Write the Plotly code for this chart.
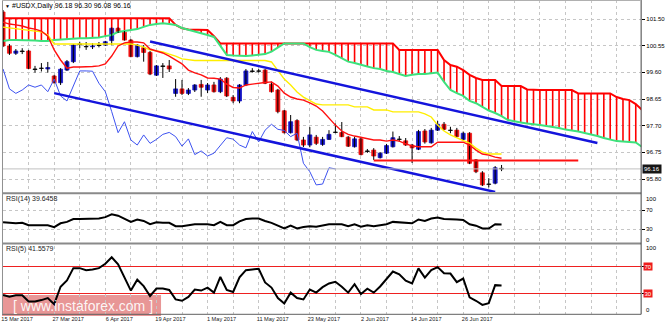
import plotly.graph_objects as go

W, H = 665, 325

# ---------------- data (bar -1 = 15 Mar 2017 ... bar 77 = 4 Jul 2017) ----------------
bars = list(range(-1, 78))
opens = [101.75, 100.54, 100.28, 100.36, 100.36, 99.72, 99.74, 99.72, 99.47, 99.23,
         99.68, 99.98, 100.59, 100.52, 100.51, 100.56, 100.57, 100.73, 101.17, 101.03,
         100.75, 100.16, 100.48, 100.31, 99.50, 99.83, 99.83, 98.85, 99.01, 98.85,
         98.97, 99.17, 98.97, 99.15, 98.91, 99.39, 98.71, 98.58, 99.15, 99.63,
         99.65, 99.68, 99.18, 98.97, 98.23, 97.45, 97.88, 97.19, 97.01, 97.29,
         97.03, 97.21, 97.47, 97.46, 97.29, 96.95, 97.23, 96.78, 96.83, 96.56,
         96.72, 96.95, 97.21, 97.16, 97.01, 96.86, 97.51, 97.09, 97.54, 97.75,
         97.54, 97.54, 97.21, 97.43, 96.48, 96.02, 95.61, 95.65, 96.18]
highs = [101.82, 100.61, 100.43, 100.46, 100.40, 99.83, 99.93, 99.97, 99.51, 99.75,
         100.04, 100.61, 100.69, 100.68, 100.64, 100.68, 100.72, 101.20, 101.20, 101.07,
         100.79, 100.61, 100.57, 100.36, 99.86, 99.93, 100.04, 99.36, 99.33, 99.04,
         99.18, 99.33, 99.22, 99.26, 99.43, 99.43, 98.79, 99.18, 99.72, 99.75,
         99.72, 99.72, 99.27, 99.01, 98.26, 98.08, 97.93, 97.30, 97.65, 97.37,
         97.30, 97.54, 97.78, 97.83, 97.33, 97.31, 97.30, 96.87, 96.90, 96.76,
         97.05, 97.49, 97.33, 97.26, 97.05, 97.55, 97.58, 97.62, 97.87, 97.83,
         97.66, 97.62, 97.49, 97.47, 96.51, 96.08, 95.83, 96.26, 96.30]
lows = [100.50, 100.22, 100.22, 100.25, 99.71, 99.59, 99.63, 99.59, 99.20, 99.15,
        99.65, 99.93, 100.46, 100.40, 100.43, 100.49, 100.54, 100.57, 101.00, 100.73,
        100.14, 100.13, 99.98, 99.50, 99.47, 99.40, 99.61, 98.73, 98.79, 98.79,
        98.90, 98.73, 98.86, 98.88, 98.86, 98.72, 98.50, 98.50, 99.11, 99.59,
        99.59, 99.18, 98.88, 98.14, 97.42, 97.42, 97.15, 96.94, 96.93, 97.01,
        96.98, 97.19, 97.43, 97.29, 96.94, 96.92, 96.64, 96.73, 96.48, 96.53,
        96.69, 96.92, 97.12, 96.98, 96.37, 96.83, 97.06, 97.06, 97.51, 97.54,
        97.43, 97.29, 97.19, 96.33, 96.01, 95.55, 95.50, 95.61, 96.08]
closes = [100.54, 100.28, 100.36, 100.34, 99.74, 99.70, 99.75, 99.77, 99.23, 99.71,
          99.98, 100.57, 100.61, 100.51, 100.54, 100.57, 100.69, 101.17, 101.03, 100.75,
          100.16, 100.57, 100.31, 99.54, 99.83, 99.81, 99.72, 99.01, 98.85, 98.97,
          99.15, 99.07, 99.15, 98.91, 99.36, 98.76, 98.58, 99.15, 99.65, 99.65,
          99.64, 99.21, 98.91, 98.20, 97.45, 97.84, 97.19, 97.01, 97.37, 97.07,
          97.21, 97.39, 97.46, 97.31, 96.97, 97.23, 96.67, 96.80, 96.62, 96.72,
          96.99, 97.27, 97.22, 97.01, 96.91, 97.49, 97.12, 97.54, 97.75, 97.57,
          97.53, 97.31, 97.43, 96.36, 96.06, 95.59, 95.62, 96.20, 96.16]

tenkan = [101.39, 101.32, 101.29, 101.25, 101.18, 101.14, 101.07, 100.89, 100.40, 100.04,
          99.75, 99.79, 99.79, 99.79, 99.81, 99.83, 99.90, 100.18, 100.54, 100.65,
          100.68, 100.68, 100.65, 100.43, 100.36, 100.29, 100.18, 100.04, 99.90, 99.68,
          99.58, 99.51, 99.40, 99.39, 99.36, 99.18, 99.06, 99.04, 99.15, 99.18,
          99.22, 99.24, 99.26, 99.11, 98.86, 98.72, 98.65, 98.61, 98.51, 98.40,
          98.22, 97.97, 97.72, 97.51, 97.39, 97.33, 97.28, 97.23, 97.19, 97.19,
          97.15, 97.19, 97.15, 97.05, 96.98, 96.95, 96.95, 96.95, 97.11, 97.11,
          97.11, 97.11, 97.11, 97.01, 96.83, 96.69, 96.65, 96.58, 96.54]
kijun = [101.21, 101.18, 101.16, 101.14, 101.11, 101.07, 101.04, 100.93, 100.61, 100.61,
         100.61, 100.61, 100.61, 100.61, 100.61, 100.61, 100.61, 100.61, 100.61, 100.61,
         100.61, 100.57, 100.50, 100.40, 100.36, 100.33, 100.25, 100.18, 100.08, 100.04,
         100.02, 100.02, 100.02, 100.02, 100.02, 100.02, 100.02, 100.02, 100.02, 100.02,
         100.02, 100.02, 99.97, 99.68, 99.36, 99.15, 98.90, 98.72, 98.58, 98.47,
         98.44, 98.44, 98.44, 98.44, 98.44, 98.37, 98.37, 98.37, 98.26, 98.26,
         98.26, 98.19, 98.19, 98.19, 98.19, 98.19, 98.12, 98.01, 97.72, 97.51,
         97.37, 97.26, 97.17, 97.08, 96.90, 96.76, 96.69, 96.69, 96.69]

cloud_bars = list(range(-1, 100))
senkou_a = [100.72, 100.75, 100.75, 100.75, 100.75, 100.73, 100.72, 100.72, 100.75, 100.77,
            100.79, 100.81, 100.81, 100.81, 100.82, 100.84, 100.89, 100.93, 101.04, 101.07,
            101.11, 101.14, 101.22, 101.29, 101.32, 101.35, 101.32, 101.29, 101.18, 101.11,
            101.04, 100.99, 100.93, 100.86, 100.54, 100.22, 100.20, 100.18, 100.18, 100.20,
            100.22, 100.25, 100.34, 100.50, 100.63, 100.63, 100.63, 100.63, 100.50, 100.40,
            100.36, 100.33, 100.22, 100.11, 99.98, 99.93, 99.86, 99.81, 99.75, 99.72,
            99.65, 99.61, 99.54, 99.47, 99.51, 99.54, 99.54, 99.56, 99.59, 99.26,
            98.97, 98.86, 98.76, 98.58, 98.50, 98.37, 98.24, 98.15, 98.04, 97.90,
            97.85, 97.81, 97.78, 97.76, 97.72, 97.69, 97.66, 97.62, 97.56, 97.53,
            97.49, 97.44, 97.39, 97.33, 97.26, 97.21, 97.15, 97.14, 97.13, 97.10,
            96.94]
senkou_b = [101.53, 101.53, 101.53, 101.53, 101.53, 101.53, 101.53, 101.53, 101.53, 101.53,
            101.53, 101.53, 101.53, 101.53, 101.53, 101.53, 101.53, 101.53, 101.53, 101.53,
            101.53, 101.53, 101.53, 101.53, 101.53, 101.53, 101.53, 101.29, 101.17, 101.13,
            101.13, 101.13, 101.11, 100.89, 100.63, 100.63, 100.63, 100.63, 100.63, 100.63,
            100.63, 100.63, 100.63, 100.63, 100.63, 100.63, 100.63, 100.63, 100.63, 100.63,
            100.63, 100.63, 100.63, 100.63, 100.63, 100.63, 100.63, 100.63, 100.63, 100.63,
            100.63, 100.63, 100.40, 100.40, 100.40, 100.40, 100.40, 100.40, 100.40, 100.04,
            99.86, 99.80, 99.68, 99.51, 99.40, 99.33, 99.33, 99.33, 99.11, 99.11,
            99.11, 99.11, 98.99, 98.97, 98.97, 98.97, 98.97, 98.97, 98.97, 98.97,
            98.85, 98.85, 98.85, 98.85, 98.85, 98.85, 98.72, 98.65, 98.61, 98.47,
            98.26]
chikou_shift = 26

rsi14 = [44, 43, 42, 43, 38, 38, 38, 38, 34, 42, 45, 51, 51, 51, 51, 52, 55, 61, 58, 52,
         45, 50, 47, 40, 44, 43, 43, 36, 36, 38, 40, 40, 40, 38, 45, 38, 38, 46, 51, 52,
         52, 47, 43, 37, 31, 37, 31, 34, 36, 35, 37, 40, 40, 40, 36, 40, 35, 38, 36, 38,
         40, 45, 44, 43, 42, 50, 47, 52, 54, 51, 51, 50, 49, 40, 37, 31, 31, 40, 39.65]
rsi5 = [27.5, 25, 27, 27, 18, 18, 20, 23, 14, 39.6, 49, 67, 67, 64, 65, 67, 73.5, 83, 72.5, 53,
        34, 50, 40.6, 26, 37, 37, 35, 21, 19, 24.6, 35.5, 34, 38.4, 31, 54, 35, 32, 53.6, 64, 65,
        66, 46, 38.4, 23, 15, 31, 23, 21, 35.5, 31, 39, 44.5, 47, 39.6, 31, 43.5, 29, 36.7, 31, 40,
        51.7, 62, 58, 48.5, 44.5, 66.7, 53, 64, 68.5, 59.4, 59, 46.4, 51.7, 24, 19, 13, 15.5, 42, 41.56]

date_bars = [-1, 7, 15, 23, 31, 39, 47, 55, 63, 71]
date_labels = ["15 Mar 2017", "27 Mar 2017", "6 Apr 2017", "19 Apr 2017", "1 May 2017",
               "11 May 2017", "23 May 2017", "2 Jun 2017", "14 Jun 2017", "26 Jun 2017"]
price_ticks = [95.80, 96.75, 97.70, 98.65, 99.60, 100.55, 101.50]
rsi_levels = [30, 70]
rsi_axis_labels = [100, 70, 30, 0]

channel_upper_bars = [22, 92]
channel_upper_prices = [100.70, 97.08]
channel_lower_bars = [7, 76]
channel_lower_prices = [98.86, 95.34]
support_bars = [57, 89]
support_price = 96.46
last_price = 96.16
title_text = "#USDX,Daily 96.18 96.30 96.08 96.16"
rsi14_label = "RSI(14) 39.6458"
rsi5_label = "RSI(5) 41.5579"
watermark = "[ www.instaforex.com ]"

for arr in (opens, highs, lows, closes, tenkan, kijun, rsi14, rsi5):
    assert len(arr) == len(bars), len(arr)
assert len(senkou_a) == len(cloud_bars) == len(senkou_b)

# ---------------- geometry helpers (pixel -> paper) ----------------
def py(p):
    return 1 - p / H

def px(p):
    return p / W

FONT = "Liberation Sans, Arial, sans-serif"
GRID = "#c6c6c6"

fig = go.Figure()

# Ichimoku cloud hatching
hx, hy = [], []
for b, a, s in zip(cloud_bars, senkou_a, senkou_b):
    hx += [b, b, None]
    hy += [a, s, None]
fig.add_trace(go.Scatter(x=hx, y=hy, mode="lines", line=dict(color="#ff0000", width=1.6),
                         xaxis="x", yaxis="y", hoverinfo="skip"))
fig.add_trace(go.Scatter(x=cloud_bars, y=senkou_b, mode="lines", line=dict(color="#ff0000", width=2),
                         xaxis="x", yaxis="y"))
fig.add_trace(go.Scatter(x=cloud_bars, y=senkou_a, mode="lines", line=dict(color="#3ce27c", width=2),
                         xaxis="x", yaxis="y"))

# candles: wicks
wx, wy = [], []
for b, h, l in zip(bars, highs, lows):
    wx += [b, b, None]
    wy += [l, h, None]
fig.add_trace(go.Scatter(x=wx, y=wy, mode="lines", line=dict(color="#000000", width=1),
                         xaxis="x", yaxis="y", hoverinfo="skip"))
# candles: bodies
bases = [min(o, c) for o, c in zip(opens, closes)]
heights = [abs(c - o) for o, c in zip(opens, closes)]
cols = ["#000000" if abs(c - o) < 0.025 else ("#1414c4" if c > o else "#ee1010")
        for o, c in zip(opens, closes)]
fig.add_trace(go.Bar(x=bars, y=heights, base=bases, width=0.62,
                     marker=dict(color=cols, line=dict(color=cols, width=0.8)),
                     xaxis="x", yaxis="y"))

# Ichimoku lines
fig.add_trace(go.Scatter(x=bars, y=kijun, mode="lines", line=dict(color="#ffee00", width=1.4),
                         xaxis="x", yaxis="y"))
fig.add_trace(go.Scatter(x=bars, y=tenkan, mode="lines", line=dict(color="#ff1010", width=1.4),
                         xaxis="x", yaxis="y"))
ch_x = [b - chikou_shift for b in bars if b - chikou_shift >= -1]
ch_y = [c for b, c in zip(bars, closes) if b - chikou_shift >= -1]
fig.add_trace(go.Scatter(x=ch_x, y=ch_y, mode="lines", line=dict(color="#3d52f0", width=1),
                         xaxis="x", yaxis="y"))

# channel lines and support
fig.add_trace(go.Scatter(x=channel_upper_bars, y=channel_upper_prices, mode="lines",
                         line=dict(color="#1414dc", width=2.5), xaxis="x", yaxis="y"))
fig.add_trace(go.Scatter(x=channel_lower_bars, y=channel_lower_prices, mode="lines",
                         line=dict(color="#1414dc", width=2.5), xaxis="x", yaxis="y"))
fig.add_trace(go.Scatter(x=support_bars, y=[support_price, support_price], mode="lines",
                         line=dict(color="#ff1010", width=2), xaxis="x", yaxis="y"))

# RSI panels
fig.add_trace(go.Scatter(x=bars, y=rsi14, mode="lines", line=dict(color="#000000", width=2),
                         xaxis="x2", yaxis="y2"))
fig.add_trace(go.Scatter(x=bars, y=rsi5, mode="lines", line=dict(color="#000000", width=2),
                         xaxis="x3", yaxis="y3"))

# ---------------- axes ----------------
xrange = [-1.01, 98.84]
xdom = [px(1), px(643)]

def xaxis(anchor, labels=False):
    d = dict(range=xrange, domain=xdom, anchor=anchor, showgrid=True, gridcolor=GRID,
             griddash="dot", gridwidth=1, zeroline=False, showline=False,
             tickmode="array", tickvals=date_bars, ticktext=date_labels,
             showticklabels=labels, ticks="",
             minor=dict(tickmode="linear", tick0=-1, dtick=4, showgrid=True,
                        gridcolor=GRID, griddash="dot", gridwidth=1))
    if labels:
        d.update(tickfont=dict(family=FONT, size=5.6, color="#202020"), ticklabelshift=14,
                 ticklabelstandoff=1, ticklabeloverflow="allow")
    return d

fig.update_layout(
    width=W, height=H, margin=dict(l=0, r=0, t=0, b=0),
    paper_bgcolor="#ffffff", plot_bgcolor="rgba(0,0,0,0)",
    showlegend=False, hovermode=False, barmode="overlay",
    font=dict(family=FONT, size=7, color="#000000"),
    xaxis=xaxis("y"), xaxis2=xaxis("y2"), xaxis3=xaxis("y3", labels=True),
    yaxis=dict(domain=[py(192), 1], range=[95.337, 102.177], anchor="x", side="right",
               tickmode="array", tickvals=price_ticks, tickformat=".2f",
               tickfont=dict(family=FONT, size=6, color="#000000"),
               ticks="outside", ticklen=3, tickcolor="#000000",
               showgrid=True, gridcolor=GRID, griddash="dot", zeroline=False),
    yaxis2=dict(domain=[py(243.25), py(195.75)], range=[0, 100], anchor="x2", side="right",
                tickmode="array", tickvals=rsi_levels, showticklabels=False,
                ticks="outside", ticklen=3, tickcolor="#000000",
                showgrid=True, gridcolor=GRID, griddash="dot", zeroline=False),
    yaxis3=dict(domain=[py(313.7), py(245.7)], range=[0, 100], anchor="x3", side="right",
                tickmode="array", tickvals=rsi_levels, showticklabels=False,
                ticks="outside", ticklen=3, tickcolor="#000000",
                showgrid=True, gridcolor="#ee2020", griddash="solid", gridwidth=1, zeroline=False),
)

# ---------------- frame shapes ----------------
shapes = []
# watermark box (behind)
shapes.append(dict(type="rect", xref="paper", yref="paper", x0=0, x1=px(160),
                   y0=py(316), y1=py(295), fillcolor="rgba(226,120,120,0.78)",
                   line=dict(width=0), layer="below"))
# bid line
shapes.append(dict(type="line", xref="x domain", yref="y", x0=0, x1=1,
                   y0=last_price, y1=last_price, line=dict(color="#c0c0c0", width=1)))
# separators
for yy in (193.3, 243.6):
    shapes.append(dict(type="line", xref="paper", yref="paper", x0=0, x1=px(643),
                       y0=py(yy), y1=py(yy), line=dict(color="#8a8a8a", width=2)))
shapes.append(dict(type="line", xref="paper", yref="paper", x0=0, x1=px(643),
                   y0=py(314.3), y1=py(314.3), line=dict(color="#606060", width=1)))
shapes.append(dict(type="line", xref="paper", yref="paper", x0=px(643), x1=px(643),
                   y0=py(314.3), y1=1, line=dict(color="#404040", width=1)))
shapes.append(dict(type="line", xref="paper", yref="paper", x0=px(0.5), x1=px(0.5),
                   y0=py(314.3), y1=1, line=dict(color="#909090", width=1)))
shapes.append(dict(type="line", xref="paper", yref="paper", x0=0, x1=px(643),
                   y0=py(0.5), y1=py(0.5), line=dict(color="#b0b0b0", width=1)))
fig.update_layout(shapes=shapes)

# ---------------- annotations ----------------
ann = []
ann.append(dict(text="▼", xref="paper", yref="paper", x=px(1.5), y=py(5.5), xanchor="left",
                yanchor="middle", showarrow=False, font=dict(size=5, color="#000000")))
ann.append(dict(text=title_text, xref="paper", yref="paper", x=px(8), y=py(5.5), xanchor="left",
                yanchor="middle", showarrow=False, font=dict(size=7, color="#000000")))
ann.append(dict(text=rsi14_label, xref="paper", yref="paper", x=px(2), y=py(199), xanchor="left",
                yanchor="middle", showarrow=False, font=dict(size=7, color="#222222")))
ann.append(dict(text=rsi5_label, xref="paper", yref="paper", x=px(2), y=py(249.3), xanchor="left",
                yanchor="middle", showarrow=False, font=dict(size=7, color="#222222")))
# last price box
ann.append(dict(text=f"{last_price:.2f}", xref="paper", yref="y", x=px(644), y=last_price,
                xanchor="left", yanchor="middle", showarrow=False, bgcolor="#161616",
                borderpad=1, font=dict(size=6, color="#ffffff")))
# RSI axis labels
shift = {100: -3.5, 70: 0, 30: 0, 0: 3}
for v in rsi_axis_labels:
    ann.append(dict(text=str(v), xref="paper", yref="y2", x=px(645.5), y=v, yshift=shift[v],
                    xanchor="left", yanchor="middle", showarrow=False,
                    font=dict(size=6, color="#000000")))
shift5 = {100: -2.5, 0: 3.5}
for v in rsi_axis_labels:
    if v in rsi_levels:
        ann.append(dict(text=str(v), xref="paper", yref="y3", x=px(644.5), y=v,
                        xanchor="left", yanchor="middle", showarrow=False, bgcolor="#ee1c1c",
                        borderpad=0.5, font=dict(size=6, color="#ffffff")))
    else:
        ann.append(dict(text=str(v), xref="paper", yref="y3", x=px(645.5), y=v, yshift=shift5[v],
                        xanchor="left", yanchor="middle", showarrow=False,
                        font=dict(size=6, color="#000000")))
# watermark text
ann.append(dict(text=watermark, xref="paper", yref="paper", x=px(81), y=py(305.5),
                xanchor="center", yanchor="middle", showarrow=False,
                font=dict(size=14, color="rgba(255,255,255,0.92)")))
fig.update_layout(annotations=ann)

fig.write_html("out.html")
